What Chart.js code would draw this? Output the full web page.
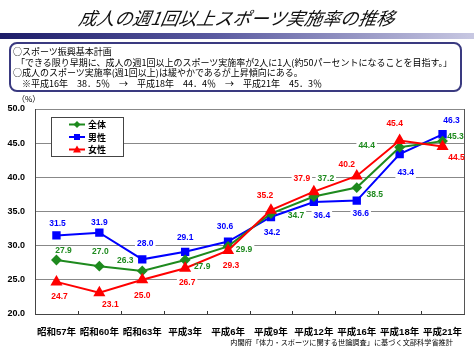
<!DOCTYPE html>
<html><head><meta charset="utf-8">
<script src="https://cdn.jsdelivr.net/npm/chart.js@4/dist/chart.umd.min.js"></script>
<style>
html,body{margin:0;padding:0;background:#fff;}
#wrap{position:relative;width:474px;height:355px;overflow:hidden;font-family:"Liberation Sans","Noto Sans CJK JP",sans-serif;}
#c{position:absolute;left:0;top:0;}
#title{position:absolute;left:0;top:5px;width:474px;text-align:center;font:italic 18px "Noto Sans CJK JP";color:#111;line-height:24px;transform:skewX(-10deg);}
#bar{position:absolute;left:0;top:33px;width:474px;height:6px;background:linear-gradient(to right,#1c1c68,#5a5aa0 45%,#c8c8e2);}
#box{position:absolute;left:9px;top:42px;width:449px;height:46px;border:2px solid #3a3a80;border-radius:8px;background:#fff;}
#box div{position:absolute;white-space:nowrap;font:9px "Noto Sans CJK JP";color:#000;line-height:10px;}
#pct{position:absolute;left:17px;top:93px;font:8px "Noto Sans CJK JP";color:#000;}
#src{position:absolute;right:21px;top:337px;font:7.2px "Noto Sans CJK JP";color:#000;white-space:nowrap;}
</style></head>
<body><div id="wrap">
<canvas id="c" width="474" height="355"></canvas>
<div id="title">成人の週1回以上スポーツ実施率の推移</div>
<div id="bar"></div>
<div id="box">
<div style="left:2px;top:3px">○スポーツ振興基本計画</div>
<div style="left:5px;top:13.5px">「できる限り早期に、成人の週1回以上のスポーツ実施率が2人に1人(約50パーセントになることを目指す。」</div>
<div style="left:2px;top:24px">○成人のスポーツ実施率(週1回以上)は緩やかであるが上昇傾向にある。</div>
<div style="left:11px;top:34.5px">※平成16年　38．5％　→　平成18年　44．4％　→　平成21年　45．3％</div>
</div>
<div id="pct">（%）</div>
<div id="src">内閣府「体力・スポーツに関する世論調査」に基づく文部科学省推計</div>
</div>
<script>
const categories = ['昭和57年','昭和60年','昭和63年','平成3年','平成6年','平成9年','平成12年','平成16年','平成18年','平成21年'];
const seriesNames = ['全体','男性','女性'];
const totalValues = [27.9, 27.0, 26.3, 27.9, 29.9, 34.7, 37.2, 38.5, 44.4, 45.3];
const maleValues = [31.5, 31.9, 28.0, 29.1, 30.6, 34.2, 36.4, 36.6, 43.4, 46.3];
const femaleValues = [24.7, 23.1, 25.0, 26.7, 29.3, 35.2, 37.9, 40.2, 45.4, 44.5];
const yTicks = [20, 25, 30, 35, 40, 45, 50];

// label offsets (pixels from point) per series
const labelOffsets = [
  [[7,-9],[1,-15],[-17,-10],[17,7],[16,3],[25,2],[12,-18],[18,7],[-33,-2],[13,-4]],
  [[1,-12],[0,-10],[3,-16],[0,-14],[-3,-15],[1,16],[8,14],[4,13],[6,19],[9,-14]],
  [[3,15],[11,12],[0,16],[2,14],[3,15],[-6,-14],[-12,-13],[-10,-11],[-5,-17],[14,11]]
];
const colors = ['#1e8a1e','#0000ff','#ff0000'];
const labelFont = 'bold 8.5px "Liberation Sans", sans-serif';

const labelPlugin = {
  id: 'labels',
  beforeDatasetsDraw(chart) {
    const ctx = chart.ctx;
    ctx.save();
    ctx.font = labelFont;
    ctx.fillStyle = '#fff';
    chart.data.datasets.forEach((ds, di) => {
      const meta = chart.getDatasetMeta(di);
      meta.data.forEach((pt, i) => {
        const t = ds.data[i].toFixed(1);
        const w = ctx.measureText(t).width;
        const x = pt.x + labelOffsets[di][i][0];
        const y = pt.y + labelOffsets[di][i][1];
        ctx.fillRect(x - w/2 - 2, y - 5, w + 4, 10);
      });
    });
    ctx.restore();
  },
  afterDatasetsDraw(chart) {
    const ctx = chart.ctx;
    const a = chart.chartArea;
    ctx.save();
    ctx.strokeStyle = '#555';
    ctx.lineWidth = 1;
    ctx.beginPath(); ctx.moveTo(a.right + 0.5, a.top); ctx.lineTo(a.right + 0.5, a.bottom); ctx.stroke();
    const xs = chart.scales.x;
    ctx.strokeStyle = '#333';
    for (let i = 0; i < categories.length - 1; i++) {
      const px = Math.round((xs.getPixelForValue(i) + xs.getPixelForValue(i + 1)) / 2) + 0.5;
      ctx.beginPath(); ctx.moveTo(px, a.bottom); ctx.lineTo(px, a.bottom - 3); ctx.stroke();
    }
    ctx.font = labelFont;
    ctx.textAlign = 'center';
    ctx.textBaseline = 'middle';
    chart.data.datasets.forEach((ds, di) => {
      const meta = chart.getDatasetMeta(di);
      ctx.fillStyle = colors[di];
      meta.data.forEach((pt, i) => {
        ctx.fillText(ds.data[i].toFixed(1), pt.x + labelOffsets[di][i][0], pt.y + labelOffsets[di][i][1]);
      });
    });
    const lx = 51, ly = 117, lw = 72, lh = 39;
    ctx.fillStyle = '#fff';
    ctx.fillRect(lx, ly, lw, lh);
    ctx.strokeStyle = '#444';
    ctx.strokeRect(lx + 0.5, ly + 0.5, lw, lh);
    chart.data.datasets.forEach((ds, di) => {
      const y = ly + 7.5 + di * 12.5;
      ctx.strokeStyle = colors[di];
      ctx.lineWidth = 2;
      ctx.beginPath(); ctx.moveTo(69, y); ctx.lineTo(85, y); ctx.stroke();
      ctx.fillStyle = colors[di];
      const cx = 77;
      if (di === 0) { ctx.beginPath(); ctx.moveTo(cx, y-3.5); ctx.lineTo(cx+3.5, y); ctx.lineTo(cx, y+3.5); ctx.lineTo(cx-3.5, y); ctx.closePath(); ctx.fill(); }
      else if (di === 1) { ctx.fillRect(cx-3, y-3, 6, 6); }
      else { ctx.beginPath(); ctx.moveTo(cx, y-4); ctx.lineTo(cx+4, y+3); ctx.lineTo(cx-4, y+3); ctx.closePath(); ctx.fill(); }
      ctx.fillStyle = '#000';
      ctx.textAlign = 'left';
      ctx.font = 'bold 9px "Noto Sans CJK JP"';
      ctx.fillText(ds.label, 88, y + 0.5);
    });
    ctx.restore();
  }
};

const bgPlugin = {
  id: 'bg',
  beforeDraw(chart) {
    const ctx = chart.ctx;
    ctx.save(); ctx.fillStyle = '#fff'; ctx.fillRect(0, 0, chart.width, chart.height); ctx.restore();
  }
};

new Chart(document.getElementById('c'), {
  type: 'line',
  data: {
    labels: categories,
    datasets: [
      { label: seriesNames[0], data: totalValues, borderColor: colors[0], backgroundColor: colors[0], borderWidth: 2, pointStyle: 'rectRot', pointRadius: 4, order: 2 },
      { label: seriesNames[1], data: maleValues, borderColor: colors[1], backgroundColor: colors[1], borderWidth: 2, pointStyle: 'rect', pointRadius: 4.5, order: 3 },
      { label: seriesNames[2], data: femaleValues, borderColor: colors[2], backgroundColor: colors[2], borderWidth: 2, pointStyle: 'triangle', pointRadius: 5, order: 1 }
    ]
  },
  options: {
    responsive: false,
    animation: false,
    devicePixelRatio: 1,
    layout: { padding: { left: 0, right: 10, top: 109, bottom: 0 } },
    plugins: { legend: { display: false }, tooltip: { enabled: false } },
    elements: { line: { tension: 0 } },
    scales: {
      x: {
        offset: true,
        grid: { display: false, drawOnChartArea: false },
        border: { display: true, color: '#444', width: 1 },
        ticks: { color: '#000', font: { family: '"Liberation Sans","Noto Sans CJK JP"', size: 9.5, weight: 'bold' }, padding: 5, maxRotation: 0, autoSkip: false },
        afterFit(s) { s.height = 41; }
      },
      y: {
        min: 20, max: 50,
        afterBuildTicks(s) { s.ticks = yTicks.map(v => ({ value: v })); },
        grid: { color: '#888', lineWidth: 1, drawTicks: false },
        border: { display: true, color: '#444', width: 1 },
        ticks: { color: '#000', padding: 10, font: { family: '"Liberation Sans"', size: 9, weight: 'bold' }, callback: v => Number(v).toFixed(1) },
        afterFit(s) { s.width = 35; }
      }
    }
  },
  plugins: [bgPlugin, labelPlugin]
});
</script>
</body></html>
